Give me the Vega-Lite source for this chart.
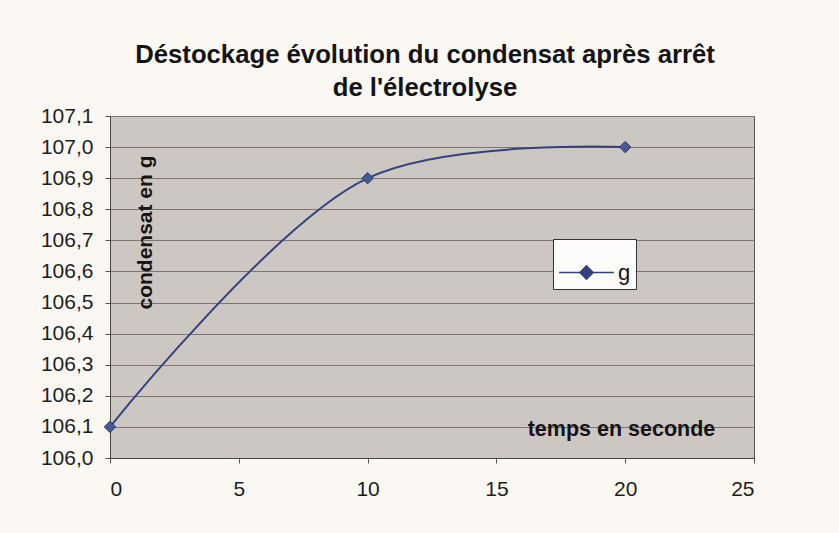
{
  "$schema": "https://vega.github.io/schema/vega-lite/v6.json",
  "autosize": "none",
  "width": 644,
  "height": 342,
  "padding": {"left": 110, "top": 116, "right": 85, "bottom": 75},
  "background": "#fbf8f4",
  "title": {
    "text": ["Déstockage évolution du condensat après arrêt", "de l'électrolyse"],
    "font": "Liberation Sans",
    "fontSize": 25.7,
    "fontWeight": "bold",
    "lineHeight": 33,
    "color": "#141414",
    "anchor": "middle",
    "dx": -7,
    "offset": 3
  },
  "data": {"values": [
    {"t": 0, "g": 106.1, "s": "g"},
    {"t": 10, "g": 106.9, "s": "g"},
    {"t": 20, "g": 107.0, "s": "g"}
  ]},
  "encoding": {
    "x": {
      "field": "t", "type": "quantitative",
      "scale": {"domain": [0, 25], "nice": false, "zero": false},
      "axis": {
        "values": [0, 5, 10, 15, 20, 25],
        "title": "temps en seconde",
        "titleX": 511, "titleY": -29,
        "titleAlign": "center", "titleBaseline": "middle",
        "titleFont": "Liberation Sans", "titleFontSize": 21.5, "titleFontWeight": "bold", "titleColor": "#141414",
        "labelFont": "Liberation Sans", "labelFontSize": 21, "labelColor": "#1e1e1e",
        "labelPadding": 15, "tickSize": 5, "tickColor": "#555", "domainColor": "#444",
        "grid": false
      }
    },
    "y": {
      "field": "g", "type": "quantitative",
      "scale": {"domain": [106.0, 107.1], "nice": false, "zero": false},
      "axis": {
        "values": [106.0, 106.1, 106.2, 106.3, 106.4, 106.5, 106.6, 106.7, 106.8, 106.9, 107.0, 107.1],
        "labelExpr": "replace(format(datum.value, '.1f'), '.', ',')",
        "title": "condensat en g",
        "titleX": 35, "titleY": 116,
        "titleAngle": -90,
        "titleAlign": "center", "titleBaseline": "middle",
        "titleFont": "Liberation Sans", "titleFontSize": 21, "titleFontWeight": "bold", "titleColor": "#141414",
        "labelFont": "Liberation Sans", "labelFontSize": 21, "labelColor": "#1e1e1e",
        "labelPadding": 12, "tickSize": 5, "tickColor": "#555", "domainColor": "#444",
        "grid": true, "gridColor": "#7d7572", "gridWidth": 1, "gridOpacity": 1
      }
    },
    "color": {
      "field": "s", "type": "nominal",
      "scale": {"range": ["#34417a"]},
      "legend": {
        "title": null,
        "orient": "none",
        "legendX": 443, "legendY": 123,
        "fillColor": "#fdfcfa",
        "strokeColor": "#333",
        "padding": 5,
        "labelFont": "Liberation Sans", "labelFontSize": 22, "labelColor": "#141414",
        "labelOffset": 3,
        "symbolType": "M-1,0H1M-0.24,0L0,-0.24L0.24,0L0,0.24Z",
        "symbolSize": 3000,
        "symbolStrokeWidth": 1.6,
        "symbolFillColor": "#4a5896",
        "symbolStrokeColor": "#2d3868"
      }
    }
  },
  "layer": [
    {"mark": {"type": "line", "interpolate": "catmull-rom", "strokeWidth": 2, "color": "#2d3868"}},
    {"mark": {"type": "point", "shape": "diamond", "filled": true, "size": 130, "fill": "#4a5896", "stroke": "#2d3868", "strokeWidth": 1, "opacity": 1}}
  ],
  "config": {
    "view": {"fill": "#cdc7c4", "stroke": "#555", "strokeWidth": 1}
  }
}
